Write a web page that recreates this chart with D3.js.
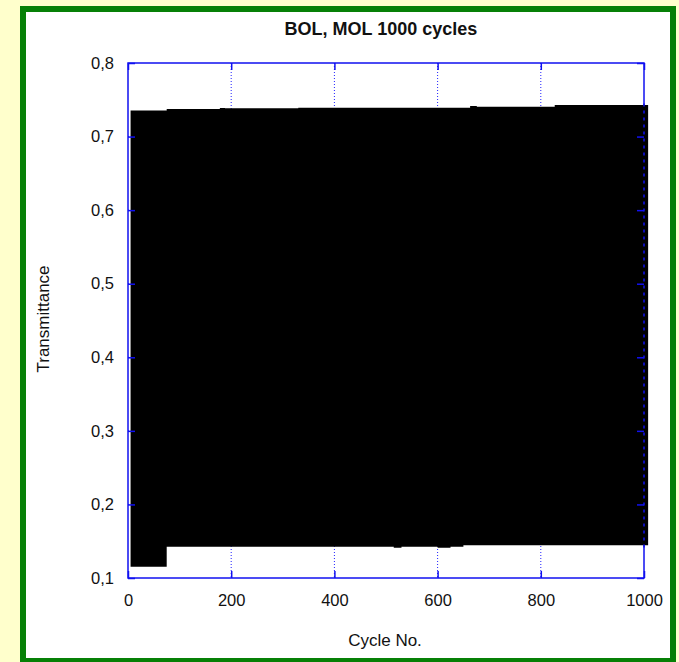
<!DOCTYPE html>
<meta charset="utf-8">
<head>
    <style>
        body { margin: 0; background: #ffffcc; }
        text { font-family: "Liberation Sans", Arial, sans-serif; fill: #111; }
    </style>
    <script src="https://d3js.org/d3.v7.min.js"></script>
</head>
<div id="my_dataviz"></div>

<script>

// envelope of the cycling signal (step changes between breakpoints)
var cycles = [5, 75, 178, 188, 330, 515, 530, 600, 625, 650, 663, 676, 827, 1008];
var upper  = [0.7355, 0.7375, 0.739, 0.7384, 0.7392, 0.7392, 0.7392, 0.7392, 0.7392, 0.7392, 0.7416, 0.7406, 0.7429, 0.7429];
var lower  = [0.1154, 0.1426, 0.1426, 0.1426, 0.1426, 0.1410, 0.1426, 0.1410, 0.1426, 0.1445, 0.1445, 0.1445, 0.1445, 0.1445];

var xTicks = [0, 200, 400, 600, 800, 1000];
var yTicks = [0.1, 0.2, 0.3, 0.4, 0.5, 0.6, 0.7, 0.8];
var yTickLabels = ["0,1", "0,2", "0,3", "0,4", "0,5", "0,6", "0,7", "0,8"];

var W = 679, H = 662;
var plot = {left: 128, right: 644, top: 63, bottom: 578};

var svg = d3.select("#my_dataviz")
  .append("svg")
    .attr("width", W)
    .attr("height", H);

// yellow page + green framed white panel
svg.append("rect").attr("width", W).attr("height", H).attr("fill", "#ffffcc");
svg.append("rect")
    .attr("x", 23).attr("y", 9)
    .attr("width", 650).attr("height", 652)
    .attr("fill", "#ffffff")
    .attr("stroke", "#068006")
    .attr("stroke-width", 6);

var x = d3.scaleLinear().domain([0, 1000]).range([plot.left, plot.right]);
var y = d3.scaleLinear().domain([0.1, 0.8]).range([plot.bottom, plot.top]);

// dotted grid
svg.append("g").selectAll("line")
    .data(xTicks.slice(1, -1))
    .enter().append("line")
    .attr("x1", d => x(d)).attr("x2", d => x(d))
    .attr("y1", plot.top).attr("y2", plot.bottom)
    .attr("stroke", "#2020ff").attr("stroke-width", 1)
    .attr("stroke-dasharray", "1,2");
svg.append("g").selectAll("line")
    .data(yTicks.slice(1, -1))
    .enter().append("line")
    .attr("y1", d => y(d)).attr("y2", d => y(d))
    .attr("x1", plot.left).attr("x2", plot.right)
    .attr("stroke", "#2020ff").attr("stroke-width", 1)
    .attr("stroke-dasharray", "1,2");

// frame
svg.append("rect")
    .attr("x", plot.left).attr("y", plot.top)
    .attr("width", plot.right - plot.left).attr("height", plot.bottom - plot.top)
    .attr("fill", "none").attr("stroke", "#1010f0").attr("stroke-width", 1.5);

// the signal band
var rows = cycles.map((c, i) => ({c: c, hi: upper[i], lo: lower[i]}));
svg.append("path")
    .datum(rows)
    .attr("fill", "#000")
    .attr("stroke", "none")
    .attr("d", d3.area()
        .curve(d3.curveStepAfter)
        .x(d => x(d.c))
        .y0(d => y(d.lo))
        .y1(d => y(d.hi)));

// right frame edge shows through the band as dashes
svg.append("line")
    .attr("x1", plot.right).attr("x2", plot.right)
    .attr("y1", y(0.745)).attr("y2", y(0.14))
    .attr("stroke", "#1010f0").attr("stroke-width", 1.5)
    .attr("stroke-dasharray", "3,4");

// axes: inward ticks, labels outside
var tickLen = 7;
var axLeft = svg.append("g")
    .attr("transform", "translate(" + plot.left + ",0)")
    .call(d3.axisLeft(y).tickValues(yTicks)
        .tickFormat((d, i) => yTickLabels[i])
        .tickSizeInner(-tickLen).tickSizeOuter(0).tickPadding(14));
var axRight = svg.append("g")
    .attr("transform", "translate(" + plot.right + ",0)")
    .call(d3.axisRight(y).tickValues(yTicks).tickFormat("")
        .tickSizeInner(-tickLen).tickSizeOuter(0));
var axBottom = svg.append("g")
    .attr("transform", "translate(0," + plot.bottom + ")")
    .call(d3.axisBottom(x).tickValues(xTicks)
        .tickFormat(d => d)
        .tickSizeInner(-tickLen).tickSizeOuter(0).tickPadding(16));
var axTop = svg.append("g")
    .attr("transform", "translate(0," + plot.top + ")")
    .call(d3.axisTop(x).tickValues(xTicks).tickFormat("")
        .tickSizeInner(-tickLen).tickSizeOuter(0));

[axLeft, axRight, axBottom, axTop].forEach(g => {
    g.select(".domain").remove();
    g.selectAll(".tick line").attr("stroke", "#1010f0").attr("stroke-width", 1.5);
    g.selectAll(".tick text")
        .style("font-family", '"Liberation Sans", Arial, sans-serif')
        .style("font-size", "16.5px")
        .attr("fill", "#111");
});

// titles
svg.append("text")
    .attr("x", 381)
    .attr("y", 35)
    .attr("text-anchor", "middle")
    .style("font-size", "18px")
    .style("font-weight", "bold")
    .text("BOL, MOL 1000 cycles");

svg.append("text")
    .attr("x", 385)
    .attr("y", 646)
    .attr("text-anchor", "middle")
    .style("font-size", "17px")
    .text("Cycle No.");

svg.append("text")
    .attr("text-anchor", "middle")
    .attr("transform", "translate(49,319) rotate(-90)")
    .style("font-size", "17px")
    .text("Transmittance");

</script>
